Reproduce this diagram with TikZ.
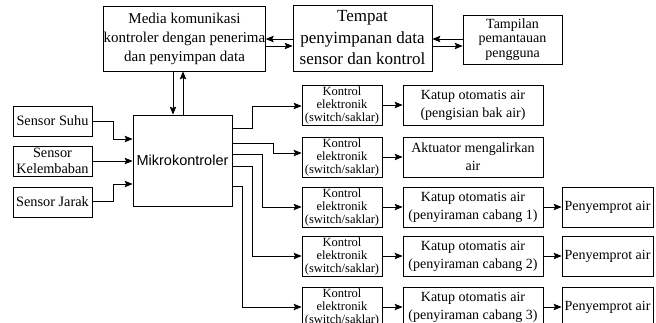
\documentclass[tikz,border=0pt]{standalone}
\usepackage{fontspec}
\setmainfont{Liberation Serif}
\newfontfamily\arialf{Liberation Sans}
\usetikzlibrary{arrows.meta}
\begin{document}
\begin{tikzpicture}[x=1pt,y=-1pt,
  box/.style={draw, line width=0.8pt, align=center, inner sep=0pt, anchor=center},
  arr/.style={line width=0.8pt, -{Stealth[length=8pt,width=6.5pt,inset=1.5pt]}},
  fmed/.style={font=\fontsize{15}{19}\selectfont},
  ftem/.style={font=\fontsize{17}{21.5}\selectfont},
  ftam/.style={font=\fontsize{14}{14.5}\selectfont},
  fsen/.style={font=\fontsize{14.3}{16.5}\selectfont},
  fkon/.style={font=\fontsize{12.5}{13}\selectfont},
  fkat/.style={font=\fontsize{14}{18}\selectfont},
  kon/.style={box, fkon, minimum width=80, minimum height=40},
  kat/.style={box, fkat, minimum width=140, minimum height=40},
  pen/.style={box, fkat, minimum width=91, minimum height=40},
  sen/.style={box, fsen, minimum width=79, minimum height=30}]
\useasboundingbox (0,0) rectangle (656,322);
% top row
\node[box, fmed, minimum width=155, minimum height=65] (media) at (184.5,38.5)
  {Media komunikasi\\kontroler dengan penerima\\dan penyimpan data};
\node[box, ftem, minimum width=139, minimum height=66] (tempat) at (362.5,38)
  {Tempat\\penyimpanan data\\sensor dan kontrol};
\node[box, ftam, minimum width=99, minimum height=49] (tampil) at (512.5,39.5)
  {Tampilan\\pemantauan\\pengguna};
% controller
\node[box, font=\arialf\fontsize{14.5}{17}\selectfont, minimum width=99, minimum height=91] (mikro) at (182.5,160.5) {Mikrokontroler};
% sensors
\node[sen] (suhu) at (52.5,121) {Sensor Suhu};
\node[sen] (kel) at (52.5,161) {Sensor\\Kelembaban};
\node[sen] (jarak) at (52.5,202) {Sensor Jarak};
% outputs
\node[kon] (k1) at (342,105) {Kontrol\\elektronik\\(switch/saklar)};
\node[kon] (k2) at (342,157) {Kontrol\\elektronik\\(switch/saklar)};
\node[kon] (k3) at (342,207) {Kontrol\\elektronik\\(switch/saklar)};
\node[kon] (k4) at (342,256) {Kontrol\\elektronik\\(switch/saklar)};
\node[kon] (k5) at (342,307) {Kontrol\\elektronik\\(switch/saklar)};
\node[kat] (c1) at (473,105) {Katup otomatis air\\(pengisian bak air)};
\node[kat] (c2) at (473,157) {Aktuator mengalirkan\\air};
\node[kat] (c3) at (473,207) {Katup otomatis air\\(penyiraman cabang 1)};
\node[kat] (c4) at (473,256) {Katup otomatis air\\(penyiraman cabang 2)};
\node[kat] (c5) at (473,307) {Katup otomatis air\\(penyiraman cabang 3)};
\node[pen] (p3) at (607.5,207) {Penyemprot air};
\node[pen] (p4) at (607.5,256) {Penyemprot air};
\node[pen] (p5) at (607.5,307) {Penyemprot air};
% top connectors
\draw[arr] (tempat.west |- 0,39) -- (media.east |- 0,39);
\draw[arr] (media.east |- 0,46) -- (tempat.west |- 0,46);
\draw[arr] (tampil.west |- 0,39) -- (tempat.east |- 0,39);
\draw[arr] (tempat.east |- 0,46) -- (tampil.west |- 0,46);
\draw[arr] (media.south -| 173,0) -- (mikro.north -| 173,0);
\draw[arr] (mikro.north -| 183,0) -- (media.south -| 183,0);
% sensors to controller
\draw[arr] (suhu.east |- 0,121) -- (113,121) |- (mikro.west |- 0,139);
\draw[arr] (kel.east) -- (mikro.west |- kel.east);
\draw[arr] (jarak.east |- 0,201) -- (113,201) |- (mikro.west |- 0,184);
% controller to switches
\draw[arr] (mikro.east |- 0,128) -- (252,128) |- (k1.west |- 0,106);
\draw[arr] (mikro.east |- 0,143) -- (273,143) |- (k2.west |- 0,153);
\draw[arr] (mikro.east |- 0,154) -- (262,154) |- (k3.west);
\draw[arr] (mikro.east |- 0,166) -- (252,166) |- (k4.west);
\draw[arr] (mikro.east |- 0,186) -- (242,186) |- (k5.west);
% switches to actuators
\foreach \i in {1,...,5} {\draw[arr] (k\i.east) -- (c\i.west);}
\foreach \i in {3,4,5} {\draw[arr] (c\i.east) -- (p\i.west);}
\end{tikzpicture}
\end{document}
